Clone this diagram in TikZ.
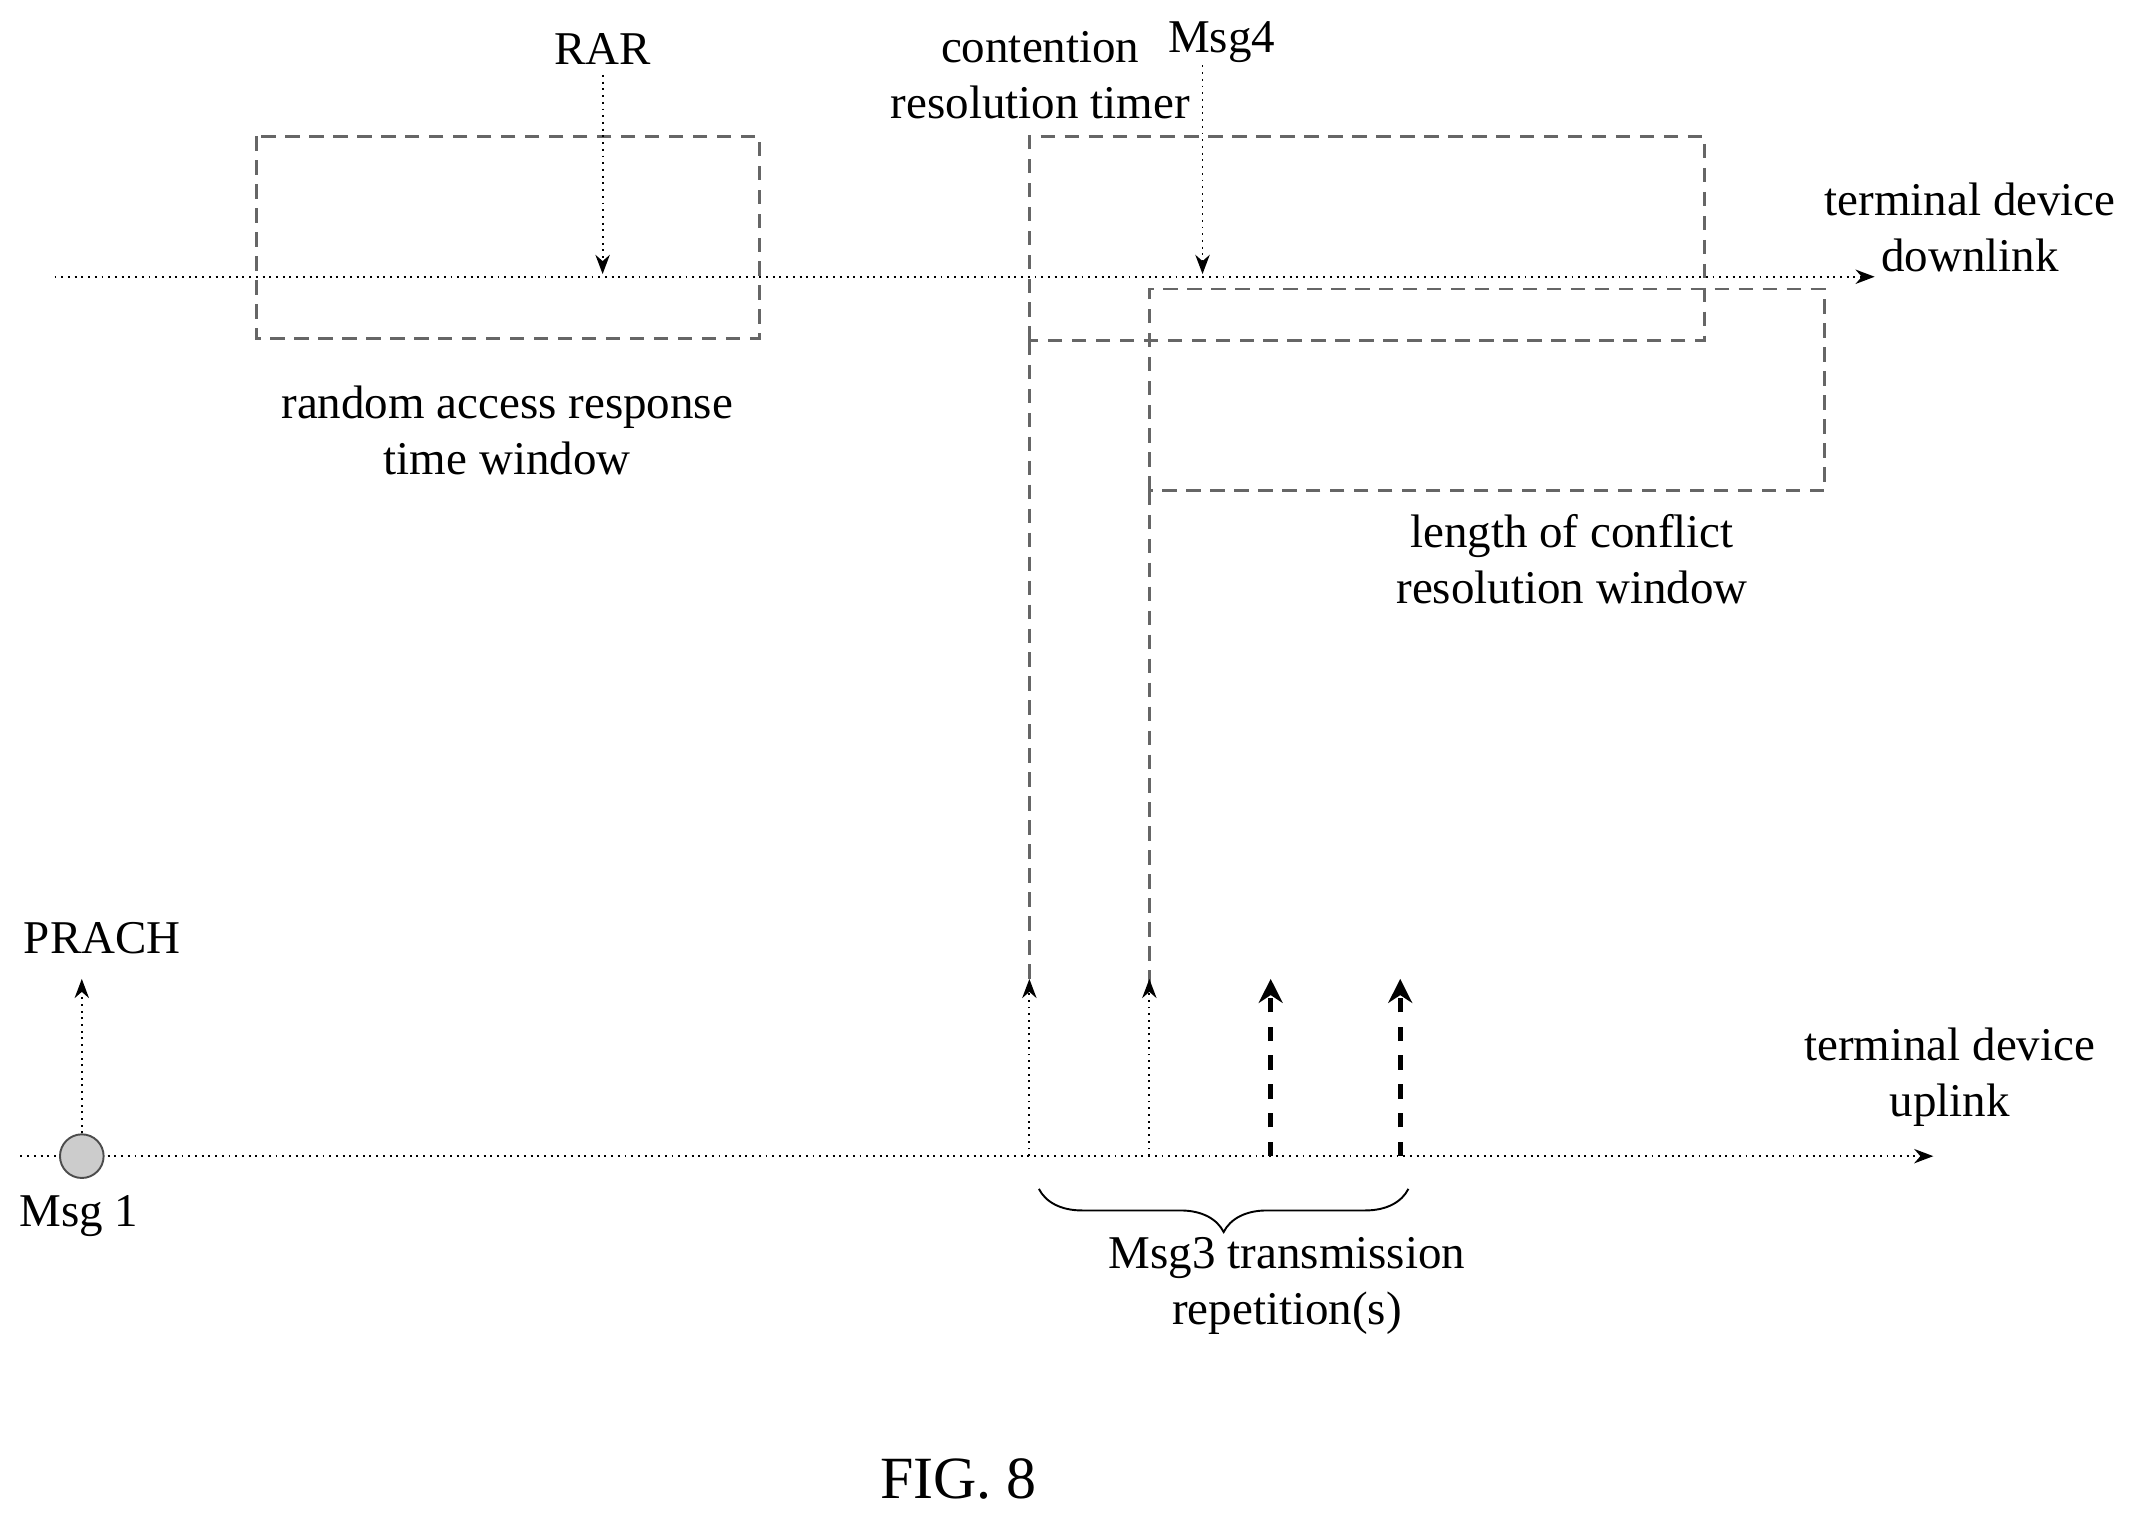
\documentclass[tikz,border=0pt]{standalone}
\usepackage{fontspec}
\setmainfont{Liberation Serif}
\usetikzlibrary{arrows.meta,decorations.pathreplacing}
\begin{document}
\begin{tikzpicture}[x=0.01cm,y=-0.01cm,
  txt/.style={font=\fontsize{9.8}{11.7}\selectfont,align=center,inner sep=0},
  box/.style={draw=black!60,dash pattern=on 3pt off 2pt,line width=0.6pt},
  axis/.style={densely dotted,-{Stealth[length=4pt]}},
  up/.style={densely dotted,-{Stealth[length=4pt]}},
  rep/.style={dashed,line width=1pt,-{Stealth[length=5pt,width=5pt]}}]
\useasboundingbox (0,0) rectangle (1563,1113);
% axes
\coordinate (dl0) at (40,203); \coordinate (dl1) at (1375,203);
\coordinate (ul0) at (15,848); \coordinate (ul1) at (1418,848);
\draw[axis] (dl0) -- (dl1);
\draw[axis] (ul0) -- (ul1);
\node[txt] (tdd) at (1445,167) {terminal device\\downlink};
\node[txt] (tdu) at (1430,790) {terminal device\\uplink};
% RAR window
\draw[box] (188,100) rectangle (557,248);
\node[txt] (rar) at (442,36) {RAR};
\coordinate (rarA) at (442,55); \coordinate (rarB) at (442,201);
\draw[up] (rarA) -- (rarB);
\node[txt] (raw) at (372,316) {random access response\\time window};
% contention timer box
\draw[box] (755,250) -- (755,100) -- (1250,100) -- (1250,250) -- cycle;
\draw[box] (755,250) -- (755,722);
\node[txt] (crt) at (763,55) {contention\\resolution timer};
\node[txt] (m4) at (896,31) {Msg4};
\coordinate (m4A) at (882,48); \coordinate (m4B) at (882,201);
\draw[up] (m4A) -- (m4B);
% conflict window
\draw[box] (843,360) -- (843,212) -- (1338,212) -- (1338,360) -- cycle;
\draw[box] (843,360) -- (843,722);
\node[txt] (lcr) at (1153,410) {length of conflict\\resolution window};
% uplink arrows
\coordinate (a1) at (755,848); \coordinate (a1t) at (755,718);
\coordinate (a2) at (843,848); \coordinate (a2t) at (843,718);
\coordinate (a3) at (932,848); \coordinate (a3t) at (932,718);
\coordinate (a4) at (1027,848); \coordinate (a4t) at (1027,718);
\draw[up] (a1) -- (a1t);
\draw[up] (a2) -- (a2t);
\draw[rep] (a3) -- (a3t);
\draw[rep] (a4) -- (a4t);
% PRACH
\node[circle,draw=black!70,fill=black!20,minimum size=0.32cm,inner sep=0] (m1c) at (60,848) {};
\coordinate (pr) at (60,718);
\draw[up] (m1c) -- (pr);
\node[txt] (prach) at (75,688) {PRACH};
\node[txt] (m1) at (58,892) {Msg 1};
% brace
\coordinate (b0) at (1033,872); \coordinate (b1) at (762,872);
\draw[decorate,decoration={brace,amplitude=9pt}] (b0) -- (b1);
\node[txt] (m3) at (944,943) {Msg3 transmission\\repetition(s)};
\node[txt,font=\fontsize{12.5}{14}\selectfont] (fig) at (703,1085) {FIG. 8};
\end{tikzpicture}
\end{document}
